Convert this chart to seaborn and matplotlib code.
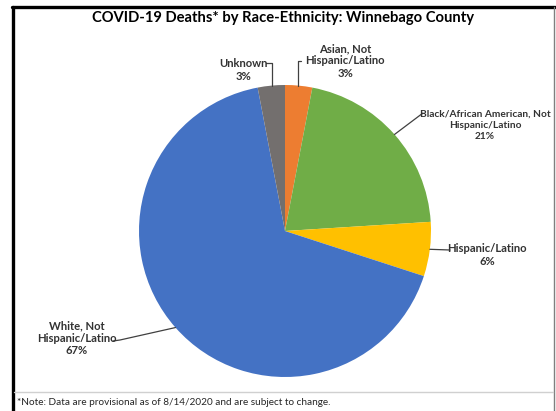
import numpy as np
import matplotlib
matplotlib.use("Agg")
import matplotlib.pyplot as plt
import seaborn as sns
from matplotlib.lines import Line2D

# ---- data ----
categories = ["Asian, Not\nHispanic/Latino",
              "Black/African American, Not\nHispanic/Latino",
              "Hispanic/Latino",
              "White, Not\nHispanic/Latino",
              "Unknown"]
percents = [3, 21, 6, 67, 3]
colors = ["#ED7D31", "#70AD47", "#FFC000", "#4472C4", "#736F6E"]
title = "COVID-19 Deaths* by Race-Ethnicity: Winnebago County"
note = "*Note: Data are provisional as of 8/14/2020 and are subject to change."

sns.set_theme(style="white")
plt.rcParams["font.family"] = ["Lato", "DejaVu Sans"]

W, H = 556, 411
fig = plt.figure(figsize=(W / 100, H / 100), dpi=100)
fig.patch.set_facecolor("white")

def fx(x):
    return x / W

def fy(y):
    return 1 - y / H

# pie axes (center 285,231 radius 146 px)
cx, cy, r = 285, 231, 146
ax = fig.add_axes([fx(cx - r), fy(cy + r), 2 * r / W, 2 * r / H])
wedges, _ = ax.pie(percents, colors=colors, startangle=90, counterclock=False,
                   wedgeprops=dict(linewidth=0))
ax.set_xlim(-1, 1)
ax.set_ylim(-1, 1)
ax.set_aspect("equal")
ax.axis("off")

def edge_px(w):
    ang = np.deg2rad((w.theta1 + w.theta2) / 2)
    return cx + r * np.cos(ang), cy - r * np.sin(ang)

# label layout: (text center x, text center y, font size, leader path points, vertical drop?)
layout = [
    (345, 61, 8.1, [(301, 61), (298, 61)], True),
    (485, 125, 7.3, [(423, 113)], False),
    (487, 255, 8.1, [(450, 250)], False),
    (77, 338, 8.1, [(113, 341), (120, 340)], False),
    (243, 70, 8.1, [(266, 63), (272, 63)], True),
]

for w, cat, p, (tx, ty, fs, path, vert) in zip(wedges, categories, percents, layout):
    fig.text(fx(tx), fy(ty), f"{cat}\n{p}%", ha="center", va="center",
             fontsize=fs, fontweight="bold", color="#333333",
             linespacing=1.18 * 8.1 / fs)
    ex, ey = edge_px(w)
    pts = path + ([(path[-1][0], ey)] if vert else [(ex, ey)])
    xs = [fx(p_[0]) for p_ in pts]
    ys = [fy(p_[1]) for p_ in pts]
    fig.add_artist(Line2D(xs, ys, color="#404040", lw=0.9))

fig.text(fx(283), fy(18), title, ha="center", va="center",
         fontsize=10.6, fontweight="bold", color="black")

fig.text(fx(17), fy(402), note, ha="left", va="center",
         fontsize=7.2, color="#262626")

# frame
fig.add_artist(Line2D([fx(12), fx(555)], [fy(7), fy(7)], color="black", lw=2.4))
fig.add_artist(Line2D([fx(13), fx(13)], [fy(7), fy(411)], color="black", lw=2.4))
fig.add_artist(Line2D([fx(554), fx(554)], [fy(7), fy(411)], color="#7f7f7f", lw=1.0))
fig.add_artist(Line2D([fx(14), fx(553)], [fy(392), fy(392)], color="#d0d0d0", lw=1.0))

fig.savefig("out.png", dpi=100, facecolor="white")
